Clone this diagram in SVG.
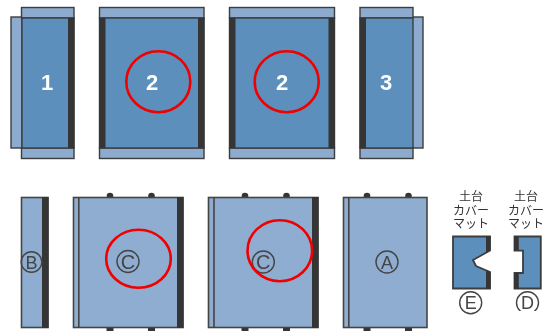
<svg xmlns="http://www.w3.org/2000/svg" width="544" height="331" viewBox="0 0 544 331">
<style>
.l{fill:#8dabcf;stroke:#3c3c3c;stroke-width:1.4}
.m{fill:#5b8fbb;stroke:#3c3c3c;stroke-width:1.4}
.p{fill:#8fadd0;stroke:#444;stroke-width:1.6}
.d{fill:#363636}
.ln{fill:none;stroke:#444;stroke-width:1.6}
.r{fill:none;stroke:#f00000;stroke-width:2.6}
.n{font:bold 22px "Liberation Sans",Arial,sans-serif;fill:#fff;text-anchor:middle}
.c{fill:none;stroke:#444;stroke-width:1.4}
.t{font:18px "Liberation Sans",Arial,sans-serif;fill:#444;text-anchor:middle}
.tc{font:20px "Liberation Sans",Arial,sans-serif;fill:#444;text-anchor:middle}
.j{font:12px "Noto Sans CJK JP",sans-serif;fill:#333;text-anchor:middle}
</style>
<defs>
<clipPath id="cd"><rect x="505" y="290" width="39" height="21"/></clipPath>
<filter id="b" x="0" y="0" width="100%" height="100%" filterUnits="userSpaceOnUse"><feGaussianBlur stdDeviation="0.4"/></filter>
</defs>
<g filter="url(#b)">
<g id="panel-1">
<rect class="l" x="11" y="17" width="11" height="131"/>
<rect class="l" x="21.500" y="7.500" width="52.500" height="10.500"/>
<rect class="l" x="21.500" y="148" width="52.500" height="10.500"/>
<rect class="m" x="22" y="18" width="52" height="130"/>
<rect class="d" x="68" y="18" width="6.500" height="130"/>
<text class="n" x="47" y="90">1</text>
</g>
<g id="panel-2a">
<rect class="l" x="99.500" y="7.500" width="104.500" height="10.500"/>
<rect class="l" x="99.500" y="148" width="104.500" height="10.500"/>
<rect class="m" x="99.500" y="18" width="104.500" height="130"/>
<rect class="d" x="99" y="18" width="6.500" height="130"/>
<rect class="d" x="198" y="18" width="6.500" height="130"/>
<text class="n" x="152" y="90">2</text>
<ellipse class="r" cx="158.300" cy="81.700" rx="32" ry="30.500"/>
</g>
<g id="panel-2b">
<rect class="l" x="229.500" y="7.500" width="105" height="10.500"/>
<rect class="l" x="229.500" y="148" width="105" height="10.500"/>
<rect class="m" x="229.500" y="18" width="105" height="130"/>
<rect class="d" x="229" y="18" width="6.500" height="130"/>
<rect class="d" x="328.500" y="18" width="6.500" height="130"/>
<text class="n" x="282" y="90">2</text>
<ellipse class="r" cx="286.700" cy="81.700" rx="32" ry="30.500"/>
</g>
<g id="panel-3">
<rect class="l" x="412" y="17" width="11" height="131"/>
<rect class="l" x="360" y="7.500" width="53" height="10.500"/>
<rect class="l" x="360" y="148" width="53" height="10.500"/>
<rect class="m" x="360" y="18" width="53" height="130"/>
<rect class="d" x="359.500" y="18" width="6.500" height="130"/>
<text class="n" x="386" y="90">3</text>
</g>
<g id="panel-B">
<rect class="p" x="21.500" y="197.500" width="26.500" height="130"/>
<rect class="d" x="42" y="197" width="6.500" height="131"/>
<circle class="c" cx="31.500" cy="262" r="10.300"/>
<text class="t" x="31.500" y="268.500">B</text>
</g>
<g id="panel-C1">
<g class="d"><circle cx="110" cy="196" r="3.300"/><circle cx="151.500" cy="196" r="3.300"/><rect x="106.500" y="327" width="7" height="4"/><rect x="148" y="327" width="7" height="4"/></g>
<rect class="p" x="73.500" y="197.500" width="109.500" height="130"/>
<path class="ln" d="M78.800 197.500V327.500"/>
<rect class="d" x="177" y="197" width="6.500" height="131"/>
<circle class="c" cx="128" cy="261.500" r="11"/>
<text class="tc" x="128" y="268.500">C</text>
<ellipse class="r" cx="138.500" cy="258.700" rx="32.300" ry="29"/>
</g>
<g id="panel-C2">
<g class="d"><circle cx="245" cy="196" r="3.300"/><circle cx="286.500" cy="196" r="3.300"/><rect x="241.500" y="327" width="7" height="4"/><rect x="283" y="327" width="7" height="4"/></g>
<rect class="p" x="208.500" y="197.500" width="109.500" height="130"/>
<path class="ln" d="M214 197.500V327.500"/>
<rect class="d" x="312" y="197" width="6.500" height="131"/>
<circle class="c" cx="263.300" cy="262" r="11"/>
<text class="tc" x="263.300" y="269">C</text>
<ellipse class="r" cx="279.800" cy="250.700" rx="32.300" ry="30.500"/>
</g>
<g id="panel-A">
<g class="d"><circle cx="367" cy="196" r="3.300"/><circle cx="408.500" cy="196" r="3.300"/><rect x="363.500" y="327" width="7" height="4"/><rect x="405" y="327" width="7" height="4"/></g>
<rect class="p" x="343.500" y="197.500" width="83.500" height="130"/>
<path class="ln" d="M348.800 197.500V327.500"/>
<circle class="c" cx="387" cy="262" r="11"/>
<text class="t" x="387" y="268.500">A</text>
</g>
<g id="part-E">
<text class="j" y="201"><tspan x="471">土台</tspan><tspan x="471" dy="14">カバー</tspan><tspan x="471" dy="13">マット</tspan></text>
<path d="M453 236.500H490V250.500L473 260L476 266L490 272V288.500H453Z" fill="#5b8fbb" stroke="#3c3c3c" stroke-width="1.800"/>
<path class="d" d="M486 236H490.500V250.500L486 253ZM486 270L490.500 272V289H486Z"/>
<circle class="c" cx="470.700" cy="302.700" r="11"/>
<text class="t" x="470.700" y="309">E</text>
</g>
<g id="part-D">
<text class="j" y="201"><tspan x="526">土台</tspan><tspan x="526" dy="14">カバー</tspan><tspan x="526" dy="13">マット</tspan></text>
<path d="M514.500 236.500H540.800V288.500H514.500V273H523V250.700H514.500Z" fill="#5b8fbb" stroke="#3c3c3c" stroke-width="1.800"/>
<path class="d" d="M514 236H518.800V250.700H514ZM514 273H518.800V289H514Z"/>
<g clip-path="url(#cd)">
<circle class="c" cx="527.500" cy="302.700" r="11"/>
<text class="t" x="527.500" y="309">D</text>
</g>
</g>
</g>
</svg>
